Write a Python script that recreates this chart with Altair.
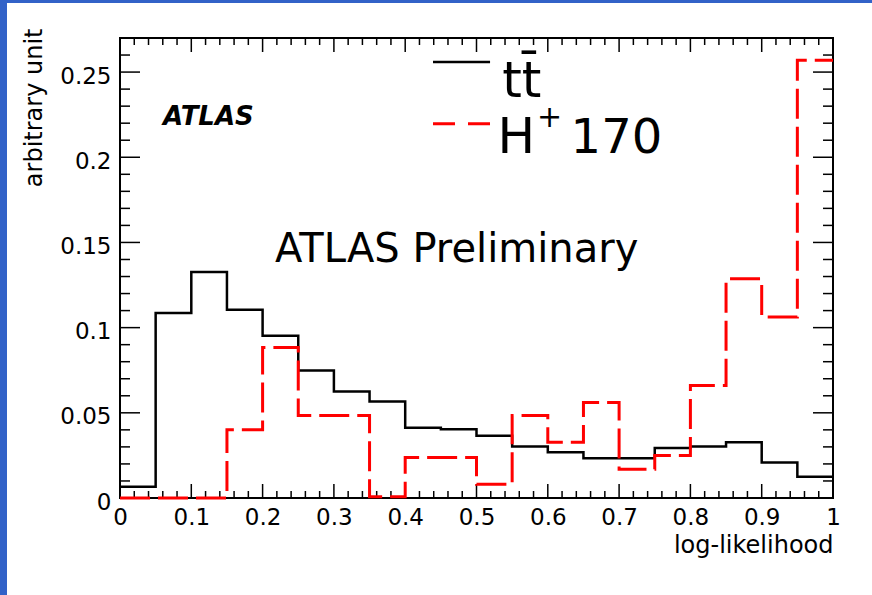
import altair as alt
import pandas as pd
import numpy as np

# ---- data ----
bin_edges = [0.00, 0.05, 0.10, 0.15, 0.20, 0.25, 0.30, 0.35, 0.40, 0.45, 0.50,
             0.55, 0.60, 0.65, 0.70, 0.75, 0.80, 0.85, 0.90, 0.95, 1.00]
tt_values = [0.0066, 0.1086, 0.1327, 0.1105, 0.0952, 0.0748, 0.0625, 0.0566, 0.0413, 0.0404,
             0.0366, 0.0302, 0.0269, 0.0233, 0.0233, 0.0294, 0.0302, 0.0327, 0.0208, 0.0125]
hp_values = [0.0000, 0.0000, 0.0000, 0.0400, 0.0884, 0.0484, 0.0484, 0.0008, 0.0237, 0.0237,
             0.0080, 0.0484, 0.0327, 0.0560, 0.0169, 0.0249, 0.0660, 0.1287, 0.1062, 0.2570]

x_tick_values = [0, 0.1, 0.2, 0.3, 0.4, 0.5, 0.6, 0.7, 0.8, 0.9, 1]
y_tick_values = [0, 0.05, 0.1, 0.15, 0.2, 0.25]
x_minor_values = [round(v, 2) for v in np.arange(0, 1.0001, 0.02) if round(v * 10, 4) % 1 != 0]
y_minor_values = [round(v, 2) for v in np.arange(0.01, 0.27, 0.01) if round(v * 20, 4) % 1 != 0]

x_title = "log-likelihood"
y_title = "arbitrary unit"
legend_labels = ["t\u0074\u0304", "H", "+", "170"]

W, H = 713, 460
X_DOMAIN = [0, 1]
Y_DOMAIN = [0, 0.27]
FONT = "DejaVu Sans"


def step_frame(values):
    xs_ = list(bin_edges)
    ys_ = list(values) + [values[-1]]
    return pd.DataFrame({"x": xs_, "y": ys_})


xs = alt.Scale(domain=X_DOMAIN, nice=False, zero=False)
ys = alt.Scale(domain=Y_DOMAIN, nice=False, zero=False)

x_axis = alt.Axis(values=x_tick_values, format="~g", domain=False, ticks=False, tickSize=0, grid=False,
                  labelFont=FONT, labelFontSize=23, labelColor="black", labelPadding=8,
                  labelFlush=False, labelOverlap=False,
                  title=x_title, titleFont=FONT, titleFontSize=24, titleFontWeight="normal",
                  titleColor="black", titleAnchor="end", titleAlign="right", titleBaseline="alphabetic",
                  titleX=W, titleY=54)
y_axis = alt.Axis(values=y_tick_values, format="~g", domain=False, ticks=False, tickSize=0, grid=False,
                  labelFont=FONT, labelFontSize=23, labelColor="black", labelPadding=9,
                  labelFlush=False, labelOverlap=False, labelOffset=4,
                  title=y_title, titleFont=FONT, titleFontSize=24, titleFontWeight="normal",
                  titleColor="black", titleAngle=270, titleAlign="right", titleBaseline="alphabetic",
                  titleX=-79, titleY=-10)


def X(field):
    return alt.X(field, scale=xs, axis=x_axis)


def Y(field):
    return alt.Y(field, scale=ys, axis=y_axis)


def XD(v):
    return alt.datum(v, scale=xs, axis=x_axis)


def YD(v):
    return alt.datum(v, scale=ys, axis=y_axis)


one = alt.Data(values=[{"a": 1}])

# histograms
tt_line = alt.Chart(step_frame(tt_values)).mark_line(
    interpolate="step-after", color="black", strokeWidth=2.5).encode(x=X("x:Q"), y=Y("y:Q"))

hp_line = alt.Chart(step_frame(hp_values)).mark_line(
    interpolate="step-after", color="#ff0000", strokeWidth=3, strokeDash=[30, 8]).encode(
    x=X("x:Q"), y=Y("y:Q"))

# blue decorative strips of the canvas
blue_left = alt.Chart(one).mark_rect(color="#3262C8").encode(
    x=alt.value(-120), x2=alt.value(-113), y=alt.value(-38), y2=alt.value(557))
blue_top = alt.Chart(one).mark_rect(color="#3262C8").encode(
    x=alt.value(-120), x2=alt.value(752), y=alt.value(-38), y2=alt.value(-35))

frame = alt.Chart(one).mark_rect(fill="white", stroke="black", strokeWidth=2).encode(
    x=alt.value(0), x2=alt.value(W), y=alt.value(0), y2=alt.value(H))

xmaj = pd.DataFrame({"v": x_tick_values})
xmin = pd.DataFrame({"v": x_minor_values})
ymaj = pd.DataFrame({"v": y_tick_values})
ymin = pd.DataFrame({"v": y_minor_values})

tick_style = dict(color="black", strokeWidth=1.5)
ticks = [
    alt.Chart(xmaj).mark_rule(**tick_style).encode(x=X("v:Q"), y=alt.value(H), y2=alt.value(H - 14)),
    alt.Chart(xmin).mark_rule(**tick_style).encode(x=X("v:Q"), y=alt.value(H), y2=alt.value(H - 7)),
    alt.Chart(xmaj).mark_rule(**tick_style).encode(x=X("v:Q"), y=alt.value(0), y2=alt.value(14)),
    alt.Chart(xmin).mark_rule(**tick_style).encode(x=X("v:Q"), y=alt.value(0), y2=alt.value(7)),
    alt.Chart(ymaj).mark_rule(**tick_style).encode(y=Y("v:Q"), x=alt.value(0), x2=alt.value(20)),
    alt.Chart(ymin).mark_rule(**tick_style).encode(y=Y("v:Q"), x=alt.value(0), x2=alt.value(10)),
    alt.Chart(ymaj).mark_rule(**tick_style).encode(y=Y("v:Q"), x=alt.value(W), x2=alt.value(W - 20)),
    alt.Chart(ymin).mark_rule(**tick_style).encode(y=Y("v:Q"), x=alt.value(W), x2=alt.value(W - 10)),
]


def text_layer(txt, x, y, size, weight="normal", style="normal"):
    return alt.Chart(one).mark_text(font=FONT, fontSize=size, fontWeight=weight, fontStyle=style,
                                    align="left", baseline="alphabetic", color="black").encode(
        x=XD(x), y=YD(y), text=alt.value(txt))


atlas = text_layer("ATLAS", 0.0603, 0.2187, 26, weight="bold", style="italic")
prelim = text_layer("ATLAS Preliminary", 0.2175, 0.1385, 40)

leg_tt = text_layer(legend_labels[0], 0.536, 0.2351, 50)
leg_h = text_layer(legend_labels[1], 0.5295, 0.2026, 50)
leg_plus = text_layer(legend_labels[2], 0.585, 0.2180, 30)
leg_170 = text_layer(legend_labels[3], 0.632, 0.2026, 48)

leg_line_tt = alt.Chart(one).mark_rule(color="black", strokeWidth=2.5).encode(
    x=XD(0.439), x2=alt.datum(0.519), y=YD(0.2559))
leg_line_hp = alt.Chart(one).mark_rule(color="#ff0000", strokeWidth=3, strokeDash=[22, 13]).encode(
    x=XD(0.439), x2=alt.datum(0.519), y=YD(0.2197))

chart = alt.layer(
    blue_left, blue_top, frame, *ticks, tt_line, hp_line,
    atlas, prelim, leg_line_tt, leg_line_hp, leg_tt, leg_h, leg_plus, leg_170
).properties(
    width=W, height=H,
    autosize=alt.AutoSizeParams(type="none"),
    padding={"left": 120, "top": 38, "right": 39, "bottom": 97},
    background="white",
).configure_view(strokeWidth=0)

chart.save("out.html", embed_options={"renderer": "svg", "actions": False})
